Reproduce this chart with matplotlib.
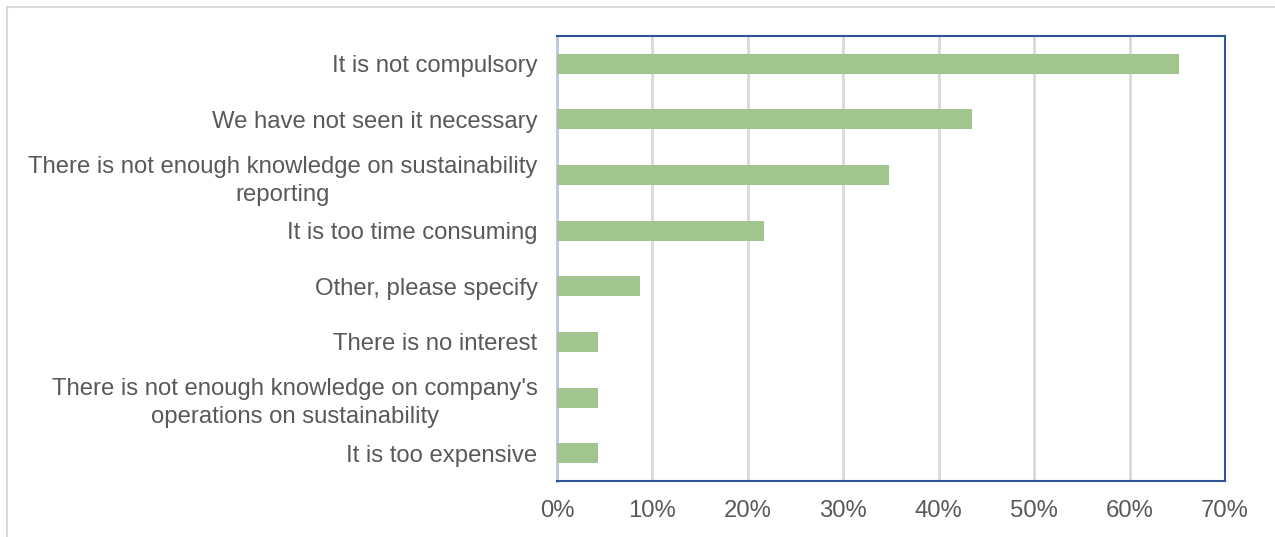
import matplotlib.pyplot as plt
from matplotlib.ticker import PercentFormatter
from matplotlib.patches import Rectangle

# Survey answers: reasons for not doing sustainability reporting
reasons = [
    "It is not compulsory",
    "We have not seen it necessary",
    "There is not enough knowledge on sustainability\nreporting",
    "It is too time consuming",
    "Other, please specify",
    "There is no interest",
    "There is not enough knowledge on company's\noperations on sustainability",
    "It is too expensive",
]
shares = [65.2, 43.5, 34.8, 21.7, 8.7, 4.3, 4.3, 4.3]

plt.rcParams['font.family'] = ['Liberation Sans', 'DejaVu Sans']

fig = plt.figure(figsize=(12.75, 5.37), dpi=100)
ax = fig.add_axes([557 / 1275, 1 - 481 / 537, (1225 - 557) / 1275, (481 - 36) / 537])

# Chart area border (light gray)
fig.patches.append(Rectangle((7 / 1275, -0.1), 1.2, 1 - 7 / 537 + 0.1,
                             transform=fig.transFigure, fill=False,
                             edgecolor='#D9D9D9', linewidth=1.5))

pos = list(range(len(reasons)))
ax.barh(pos, shares, height=0.36, color='#A2C48F', zorder=3)
ax.set_yticks(pos)
ax.set_yticklabels(reasons, fontsize=17.2, color='#595959', multialignment='center',
                   linespacing=1.35)
ax.set_ylim(len(reasons) - 0.5, -0.5)

ax.set_xlim(0, 70)
ax.set_xticks(range(0, 71, 10))
ax.xaxis.set_major_formatter(PercentFormatter(decimals=0))
ax.tick_params(axis='x', labelsize=17.2, labelcolor='#595959', length=0, pad=14)
ax.tick_params(axis='y', length=0, pad=14)

ax.grid(axis='x', color='#D9D9D9', linewidth=2, zorder=0)
for side in ['top', 'right', 'bottom']:
    ax.spines[side].set_color('#2F5597')
    ax.spines[side].set_linewidth(1.5)
ax.spines['left'].set_color('#BFC8D9')
ax.spines['left'].set_linewidth(2)

fig.savefig('out.png', dpi=100)
